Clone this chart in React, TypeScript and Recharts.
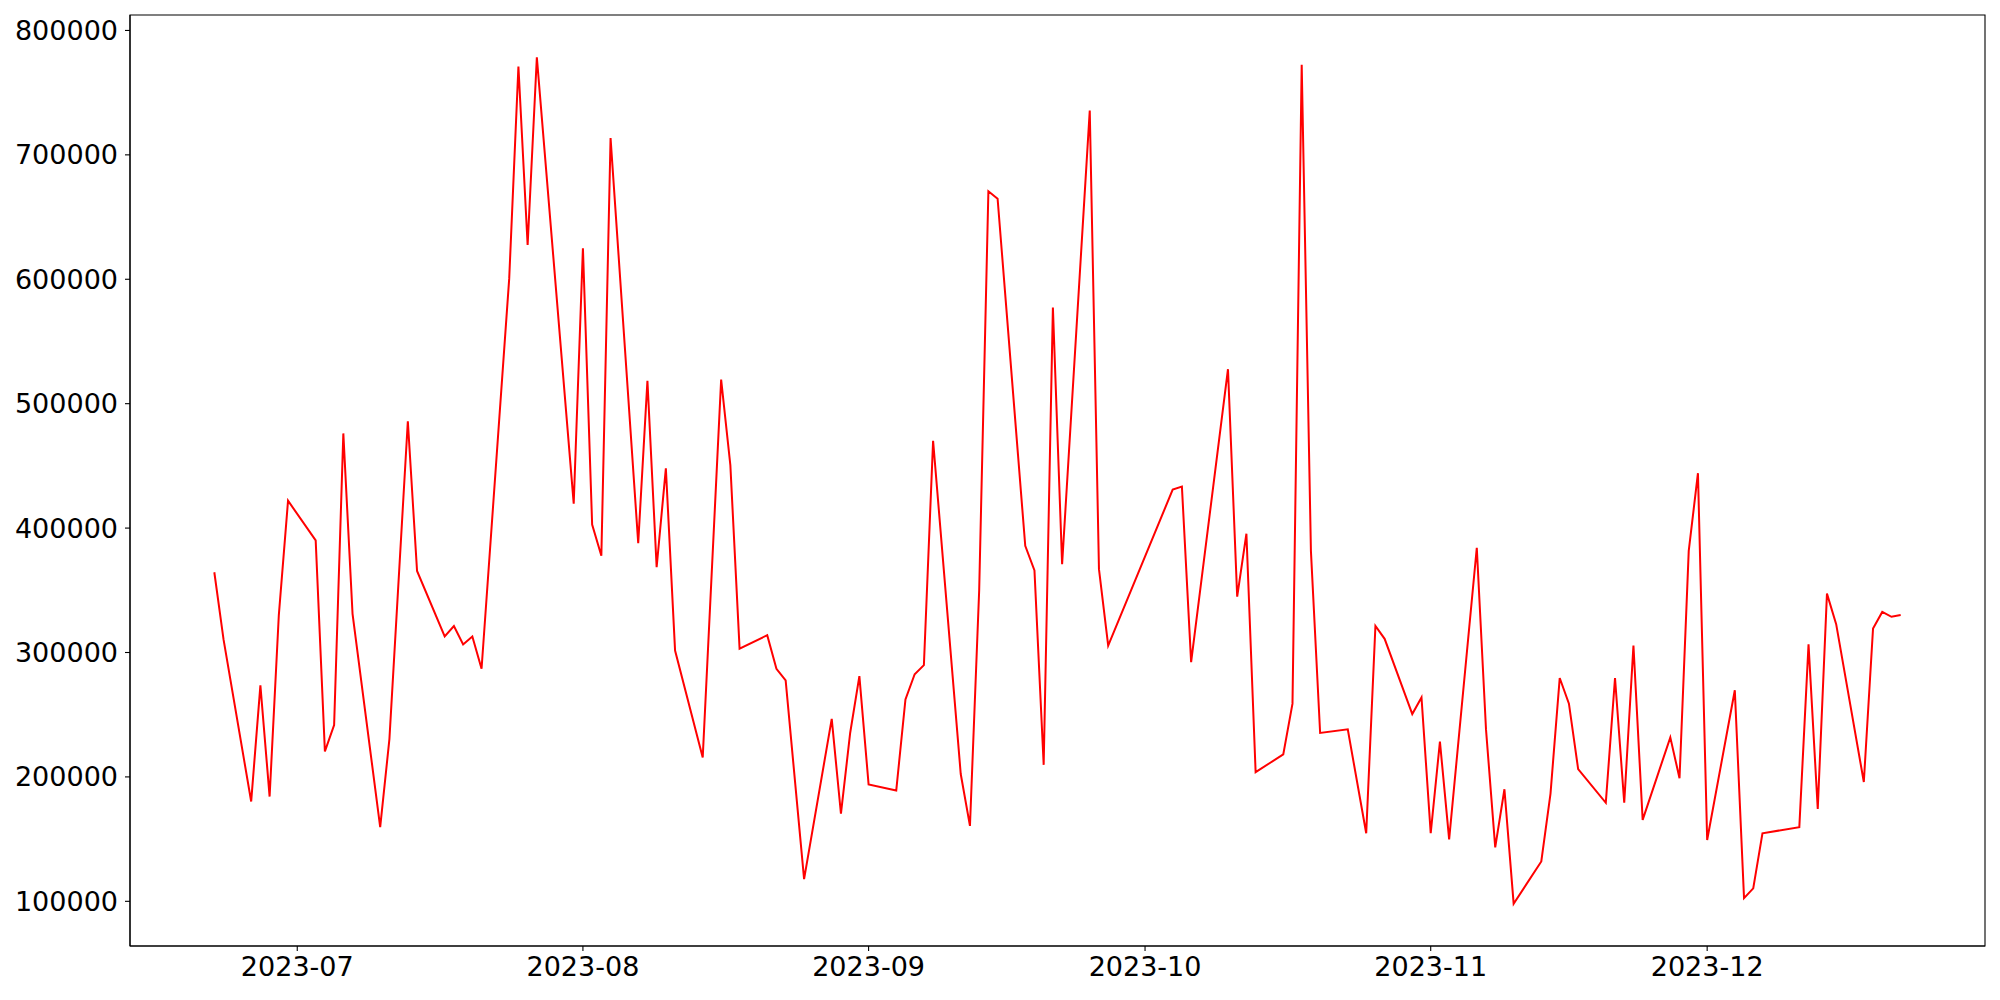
import React from 'react'
import { LineChart, Line, XAxis, YAxis, ReferenceArea } from 'recharts'

// trading days and closing values
const dates = [
  '2023-06-22', '2023-06-23', '2023-06-26', '2023-06-27', '2023-06-28', '2023-06-29', '2023-06-30',
  '2023-07-03', '2023-07-04', '2023-07-05', '2023-07-06', '2023-07-07', '2023-07-10', '2023-07-11',
  '2023-07-13', '2023-07-14', '2023-07-17', '2023-07-18', '2023-07-19', '2023-07-20', '2023-07-21',
  '2023-07-24', '2023-07-25', '2023-07-26', '2023-07-27', '2023-07-31', '2023-08-01', '2023-08-02',
  '2023-08-03', '2023-08-04', '2023-08-07', '2023-08-08', '2023-08-09', '2023-08-10', '2023-08-11',
  '2023-08-14', '2023-08-16', '2023-08-17', '2023-08-18', '2023-08-21', '2023-08-22', '2023-08-23',
  '2023-08-25', '2023-08-28', '2023-08-29', '2023-08-30', '2023-08-31', '2023-09-01', '2023-09-04',
  '2023-09-05', '2023-09-06', '2023-09-07', '2023-09-08', '2023-09-11', '2023-09-12', '2023-09-13',
  '2023-09-14', '2023-09-15', '2023-09-18', '2023-09-19', '2023-09-20', '2023-09-21', '2023-09-22',
  '2023-09-25', '2023-09-26', '2023-09-27', '2023-10-04', '2023-10-05', '2023-10-06', '2023-10-10',
  '2023-10-11', '2023-10-12', '2023-10-13', '2023-10-16', '2023-10-17', '2023-10-18', '2023-10-19',
  '2023-10-20', '2023-10-23', '2023-10-25', '2023-10-26', '2023-10-27', '2023-10-30', '2023-10-31',
  '2023-11-01', '2023-11-02', '2023-11-03', '2023-11-06', '2023-11-07', '2023-11-08', '2023-11-09',
  '2023-11-10', '2023-11-13', '2023-11-14', '2023-11-15', '2023-11-16', '2023-11-17', '2023-11-20',
  '2023-11-21', '2023-11-22', '2023-11-23', '2023-11-24', '2023-11-27', '2023-11-28', '2023-11-29',
  '2023-11-30', '2023-12-01', '2023-12-04', '2023-12-05', '2023-12-06', '2023-12-07', '2023-12-11',
  '2023-12-12', '2023-12-13', '2023-12-14', '2023-12-15', '2023-12-18', '2023-12-19', '2023-12-20',
  '2023-12-21', '2023-12-22',
]

const values = [
  364500, 310500, 180200, 273600, 184200, 330100, 422000,
  390100, 220500, 241700, 476100, 331100, 159600, 230300,
  485900, 365500, 312900, 321300, 306500, 312900, 286900,
  600500, 771000, 627500, 778400, 419600, 625000, 402900,
  377800, 713500, 387900, 518400, 368500, 448100, 301600,
  215600, 519400, 450500, 303100, 313900, 286900, 277500,
  117800, 246600, 170400, 235300, 281000, 194000, 189000,
  262300, 282500, 289800, 470200, 202300, 160600, 349800,
  670700, 664800, 385700, 366000, 209700, 577300, 370900,
  735600, 367000, 305600, 430900, 433300, 292300, 527700,
  344900, 395500, 203800, 218100, 258900, 772500, 381700,
  235300, 238200, 154700, 321300, 311000, 250500, 263800,
  154700, 228400, 149800, 384200, 238200, 143400, 190100,
  98100, 132000, 186600, 279500, 258900, 206300, 179200,
  279500, 179200, 305600, 165500, 231800, 198900, 381700,
  444100, 149300, 269700, 102600, 110400, 154700, 159600,
  306500, 174300, 347300, 322800, 195900, 319300, 332600,
  328700, 330100,
]

const monthTicks = ['2023-07-01', '2023-08-01', '2023-09-01', '2023-10-01', '2023-11-01', '2023-12-01']
const valueTicks = [100000, 200000, 300000, 400000, 500000, 600000, 700000, 800000]

const toTime = (d: string) => Date.parse(d + 'T00:00:00Z')

const data = dates.map((d, i) => ({ t: toTime(d), value: values[i] }))

// matplotlib-style 5% margins around the data
const pad = (lo: number, hi: number): [number, number] => {
  const m = (hi - lo) * 0.05
  return [lo - m, hi + m]
}
const xDomain = pad(data[0].t, data[data.length - 1].t)
const yDomain = pad(Math.min(...values), Math.max(...values))

const fmtMonth = (t: number) => {
  const d = new Date(t)
  return `${d.getUTCFullYear()}-${String(d.getUTCMonth() + 1).padStart(2, '0')}`
}

const tickStyle = { fill: '#000', fontSize: 27, fontFamily: 'DejaVu Sans' }

export default function App() {
  return (
    <div style={{ position: 'absolute', left: 0, top: 0, width: 2000, height: 1000, background: '#fff' }}>
      <LineChart width={2000} height={1000} data={data} margin={{ top: 15, right: 15, left: 0, bottom: 0 }}>
        <XAxis
          dataKey="t"
          type="number"
          domain={xDomain}
          ticks={monthTicks.map(toTime)}
          tickFormatter={fmtMonth}
          height={54}
          tick={tickStyle}
          tickSize={5}
          tickMargin={6}
          stroke="#000"
          strokeWidth={1.1}
          allowDataOverflow
        />
        <YAxis
          type="number"
          domain={yDomain}
          ticks={valueTicks}
          width={130}
          tick={tickStyle}
          tickSize={5}
          tickMargin={7}
          stroke="#000"
          strokeWidth={1.1}
          allowDataOverflow
        />
        <ReferenceArea
          x1={xDomain[0]}
          x2={xDomain[1]}
          y1={yDomain[0]}
          y2={yDomain[1]}
          fill="none"
          stroke="#000"
          strokeWidth={1.1}
          ifOverflow="visible"
        />
        <Line
          type="linear"
          dataKey="value"
          stroke="#ff0000"
          strokeWidth={2}
          dot={false}
          isAnimationActive={false}
        />
      </LineChart>
    </div>
  )
}
